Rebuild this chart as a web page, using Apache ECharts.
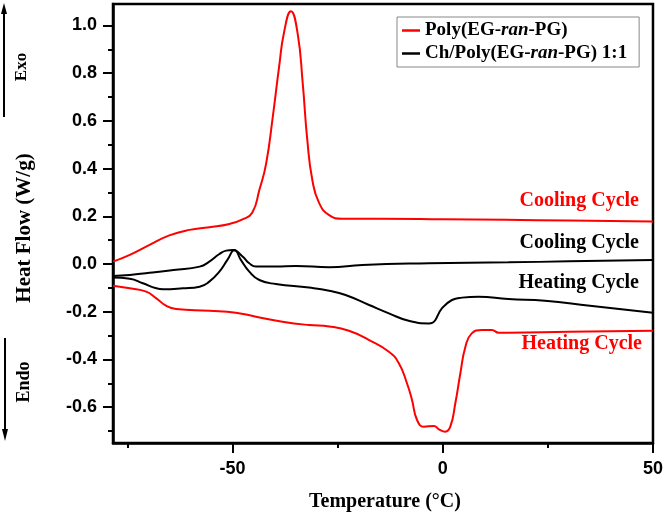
<!DOCTYPE html>
<html><head><meta charset="utf-8">
<script src="https://cdn.jsdelivr.net/npm/echarts@6/dist/echarts.min.js"></script>
<style>html,body{margin:0;padding:0;background:#fff}#c{width:666px;height:521px}</style>
</head><body><div id="c"></div>
<script>
// Poly(EG-ran-PG) cooling cycle
const polyCoolT = [-78.4,-74.4,-69.7,-65,-60.2,-55.5,-50.7,-47.6,-45.3,-43.6,-42,-40.4,-38.9,-37.7,-36.1,-34.5,-33.3,-32.2,-31,-29.4,-27,-23.9,-15,0,15,30,50];
const polyCoolHF = [0.01,0.038,0.08,0.12,0.143,0.154,0.168,0.187,0.215,0.31,0.42,0.618,0.827,0.974,1.06,0.967,0.76,0.52,0.352,0.256,0.205,0.19,0.19,0.188,0.185,0.182,0.178];
// Poly(EG-ran-PG) heating cycle
const polyHeatT = [-78.4,-74.4,-70.5,-68.1,-65.7,-63.4,-55.5,-49.2,-44.4,-38.1,-31.8,-27,-22.3,-17.5,-12.8,-10.4,-8.5,-7.3,-6.1,-4.5,-2.1,-0.9,0.6,1.8,3,4.2,5.4,6.9,9.3,11.7,13.3,15.6,30,50];
const polyHeatHF = [-0.091,-0.102,-0.116,-0.144,-0.176,-0.189,-0.196,-0.204,-0.221,-0.242,-0.256,-0.262,-0.28,-0.319,-0.368,-0.417,-0.5,-0.57,-0.654,-0.682,-0.679,-0.693,-0.703,-0.682,-0.584,-0.458,-0.347,-0.291,-0.277,-0.277,-0.288,-0.288,-0.284,-0.28];
// Ch/Poly(EG-ran-PG) 1:1 cooling cycle
const chCoolT = [-78.4,-74.4,-69,-64,-57.8,-55.5,-53.1,-51.5,-49.9,-47.6,-46,-44.4,-39.7,-34.9,-27,-19.1,-3.3,15.6,30,50];
const chCoolHF = [-0.05,-0.046,-0.036,-0.025,-0.011,0.01,0.042,0.056,0.059,0.031,0.003,-0.011,-0.011,-0.008,-0.014,-0.004,0.003,0.007,0.011,0.017];
// Ch/Poly(EG-ran-PG) 1:1 heating cycle
const chHeatT = [-78.4,-74.4,-71.3,-68.1,-66.5,-61.8,-57.8,-55.5,-53.1,-51.2,-49.5,-48,-46,-43.6,-39.7,-31.8,-27,-23.1,-17.5,-12.8,-8.1,-3.3,-2.5,-0.2,2.2,4.6,8.5,15.6,24.3,35,50];
const chHeatHF = [-0.057,-0.062,-0.081,-0.102,-0.106,-0.102,-0.095,-0.074,-0.032,0.017,0.059,0.017,-0.032,-0.067,-0.084,-0.099,-0.112,-0.13,-0.172,-0.207,-0.238,-0.249,-0.247,-0.186,-0.151,-0.141,-0.137,-0.147,-0.154,-0.175,-0.204];

const xMajorTicks = [-50,0,50];
const xMinorTicks = [-75,-25,25];
const yMajorTicks = [-0.6,-0.4,-0.2,0.0,0.2,0.4,0.6,0.8,1.0];
const yMinorTicks = [-0.7,-0.5,-0.3,-0.1,0.1,0.3,0.5,0.7,0.9];

const legendNames = ['Poly(EG-ran-PG)','Ch/Poly(EG-ran-PG) 1:1'];
const annotations = [
  {text:'Cooling Cycle', color:'#ff0000', y:201},
  {text:'Cooling Cycle', color:'#000000', y:243},
  {text:'Heating Cycle', color:'#000000', y:283},
  {text:'Heating Cycle', color:'#ff0000', y:344, dx:3}
];

const zip = (a,b)=>a.map((v,i)=>[v,b[i]]);
const X_MIN=-78.4, X_MAX=50, Y_MIN=-0.7505, Y_MAX=1.09;
const SERIF='"Liberation Serif","Times New Roman",serif';
const SANS='"Liberation Sans",Arial,sans-serif';

const chart = echarts.init(document.getElementById('c'), null, {renderer:'canvas'});
const lineSeries = (name, data, color) => ({
  name, type:'line', data, xAxisIndex:0, yAxisIndex:0, symbol:'none', showSymbol:false,
  smooth:0.5, lineStyle:{color, width:2}, itemStyle:{color}, z:3
});
const richLegend = {
  n:{fontFamily:SERIF, fontWeight:'bold', fontSize:19, color:'#000'},
  i:{fontFamily:SERIF, fontWeight:'bold', fontStyle:'italic', fontSize:19, color:'#000'}
};
chart.setOption({
  animation:false,
  backgroundColor:'#fff',
  grid:{left:113, right:12, top:4, bottom:78, show:true, borderColor:'#000', borderWidth:2.5, backgroundColor:'transparent'},
  xAxis:[
    {type:'value', min:X_MIN, max:X_MAX, position:'bottom',
     axisLine:{show:true, onZero:false, lineStyle:{color:'#000', width:2.5}},
     axisTick:{show:true, inside:false, length:10, customValues:xMajorTicks, lineStyle:{color:'#000', width:2}},
     axisLabel:{show:true, customValues:xMajorTicks, margin:17, fontFamily:SANS, fontWeight:'bold', fontSize:18, color:'#000', formatter:v=>String(Math.round(v))},
     splitLine:{show:false}},
    {type:'value', min:X_MIN, max:X_MAX, position:'bottom',
     axisLine:{show:false, onZero:false},
     axisTick:{show:true, inside:false, length:5, customValues:xMinorTicks, lineStyle:{color:'#000', width:2}},
     axisLabel:{show:false}, splitLine:{show:false}}
  ],
  yAxis:[
    {type:'value', min:Y_MIN, max:Y_MAX, position:'left',
     axisLine:{show:true, onZero:false, lineStyle:{color:'#000', width:2.5}},
     axisTick:{show:true, inside:false, length:10, customValues:yMajorTicks, lineStyle:{color:'#000', width:2}},
     axisLabel:{show:true, customValues:yMajorTicks, margin:16, fontFamily:SANS, fontWeight:'bold', fontSize:18, color:'#000', formatter:v=>v.toFixed(1)},
     splitLine:{show:false}},
    {type:'value', min:Y_MIN, max:Y_MAX, position:'left',
     axisLine:{show:false, onZero:false},
     axisTick:{show:true, inside:false, length:5, customValues:yMinorTicks, lineStyle:{color:'#000', width:2}},
     axisLabel:{show:false}, splitLine:{show:false}}
  ],
  legend:{
    orient:'vertical', left:397, top:17, data:legendNames,
    icon:'rect', itemWidth:18, itemHeight:2.5, itemGap:4,
    padding:[4,12,4,5], borderColor:'#888', borderWidth:1, backgroundColor:'#fff',
    textStyle:{fontFamily:SERIF, fontWeight:'bold', fontSize:19, color:'#000', rich:richLegend},
    formatter:name=>{
      const parts = name.split('ran');
      return '{n|'+parts[0]+'}{i|ran}{n|'+parts[1]+'}';
    }
  },
  series:[
    lineSeries(legendNames[0], zip(polyCoolT, polyCoolHF), '#ff0000'),
    lineSeries(legendNames[1], zip(chCoolT, chCoolHF), '#000000'),
    lineSeries(legendNames[1], zip(chHeatT, chHeatHF), '#000000'),
    lineSeries(legendNames[0], zip(polyHeatT, polyHeatHF), '#ff0000')
  ],
  graphic:[
    {type:'text', x:24.5, y:228, rotation:Math.PI/2, style:{text:'Heat Flow (W/g)', font:'bold 21px '+SERIF, fill:'#000', align:'center', verticalAlign:'middle'}},
    {type:'text', x:385, y:502, style:{text:'Temperature (°C)', font:'bold 20px '+SERIF, fill:'#000', align:'center', verticalAlign:'middle'}},
    {type:'text', x:22, y:67, rotation:Math.PI/2, style:{text:'Exo', font:'bold 17px '+SERIF, fill:'#000', align:'center', verticalAlign:'middle'}},
    {type:'text', x:24, y:382, rotation:Math.PI/2, style:{text:'Endo', font:'bold 18px '+SERIF, fill:'#000', align:'center', verticalAlign:'middle'}},
    {type:'line', shape:{x1:4, y1:117, x2:4, y2:12}, style:{stroke:'#000', lineWidth:2}},
    {type:'polygon', shape:{points:[[4,3],[1,14],[7,14]]}, style:{fill:'#000'}},
    {type:'line', shape:{x1:5, y1:338, x2:5, y2:430}, style:{stroke:'#000', lineWidth:2}},
    {type:'polygon', shape:{points:[[5,441],[2,429],[8,429]]}, style:{fill:'#000'}},
    ...annotations.map(a=>({type:'text', x:639+(a.dx||0), y:a.y, style:{text:a.text, font:'bold 20px '+SERIF, fill:a.color, align:'right', verticalAlign:'middle'}}))
  ]
});
</script></body></html>
